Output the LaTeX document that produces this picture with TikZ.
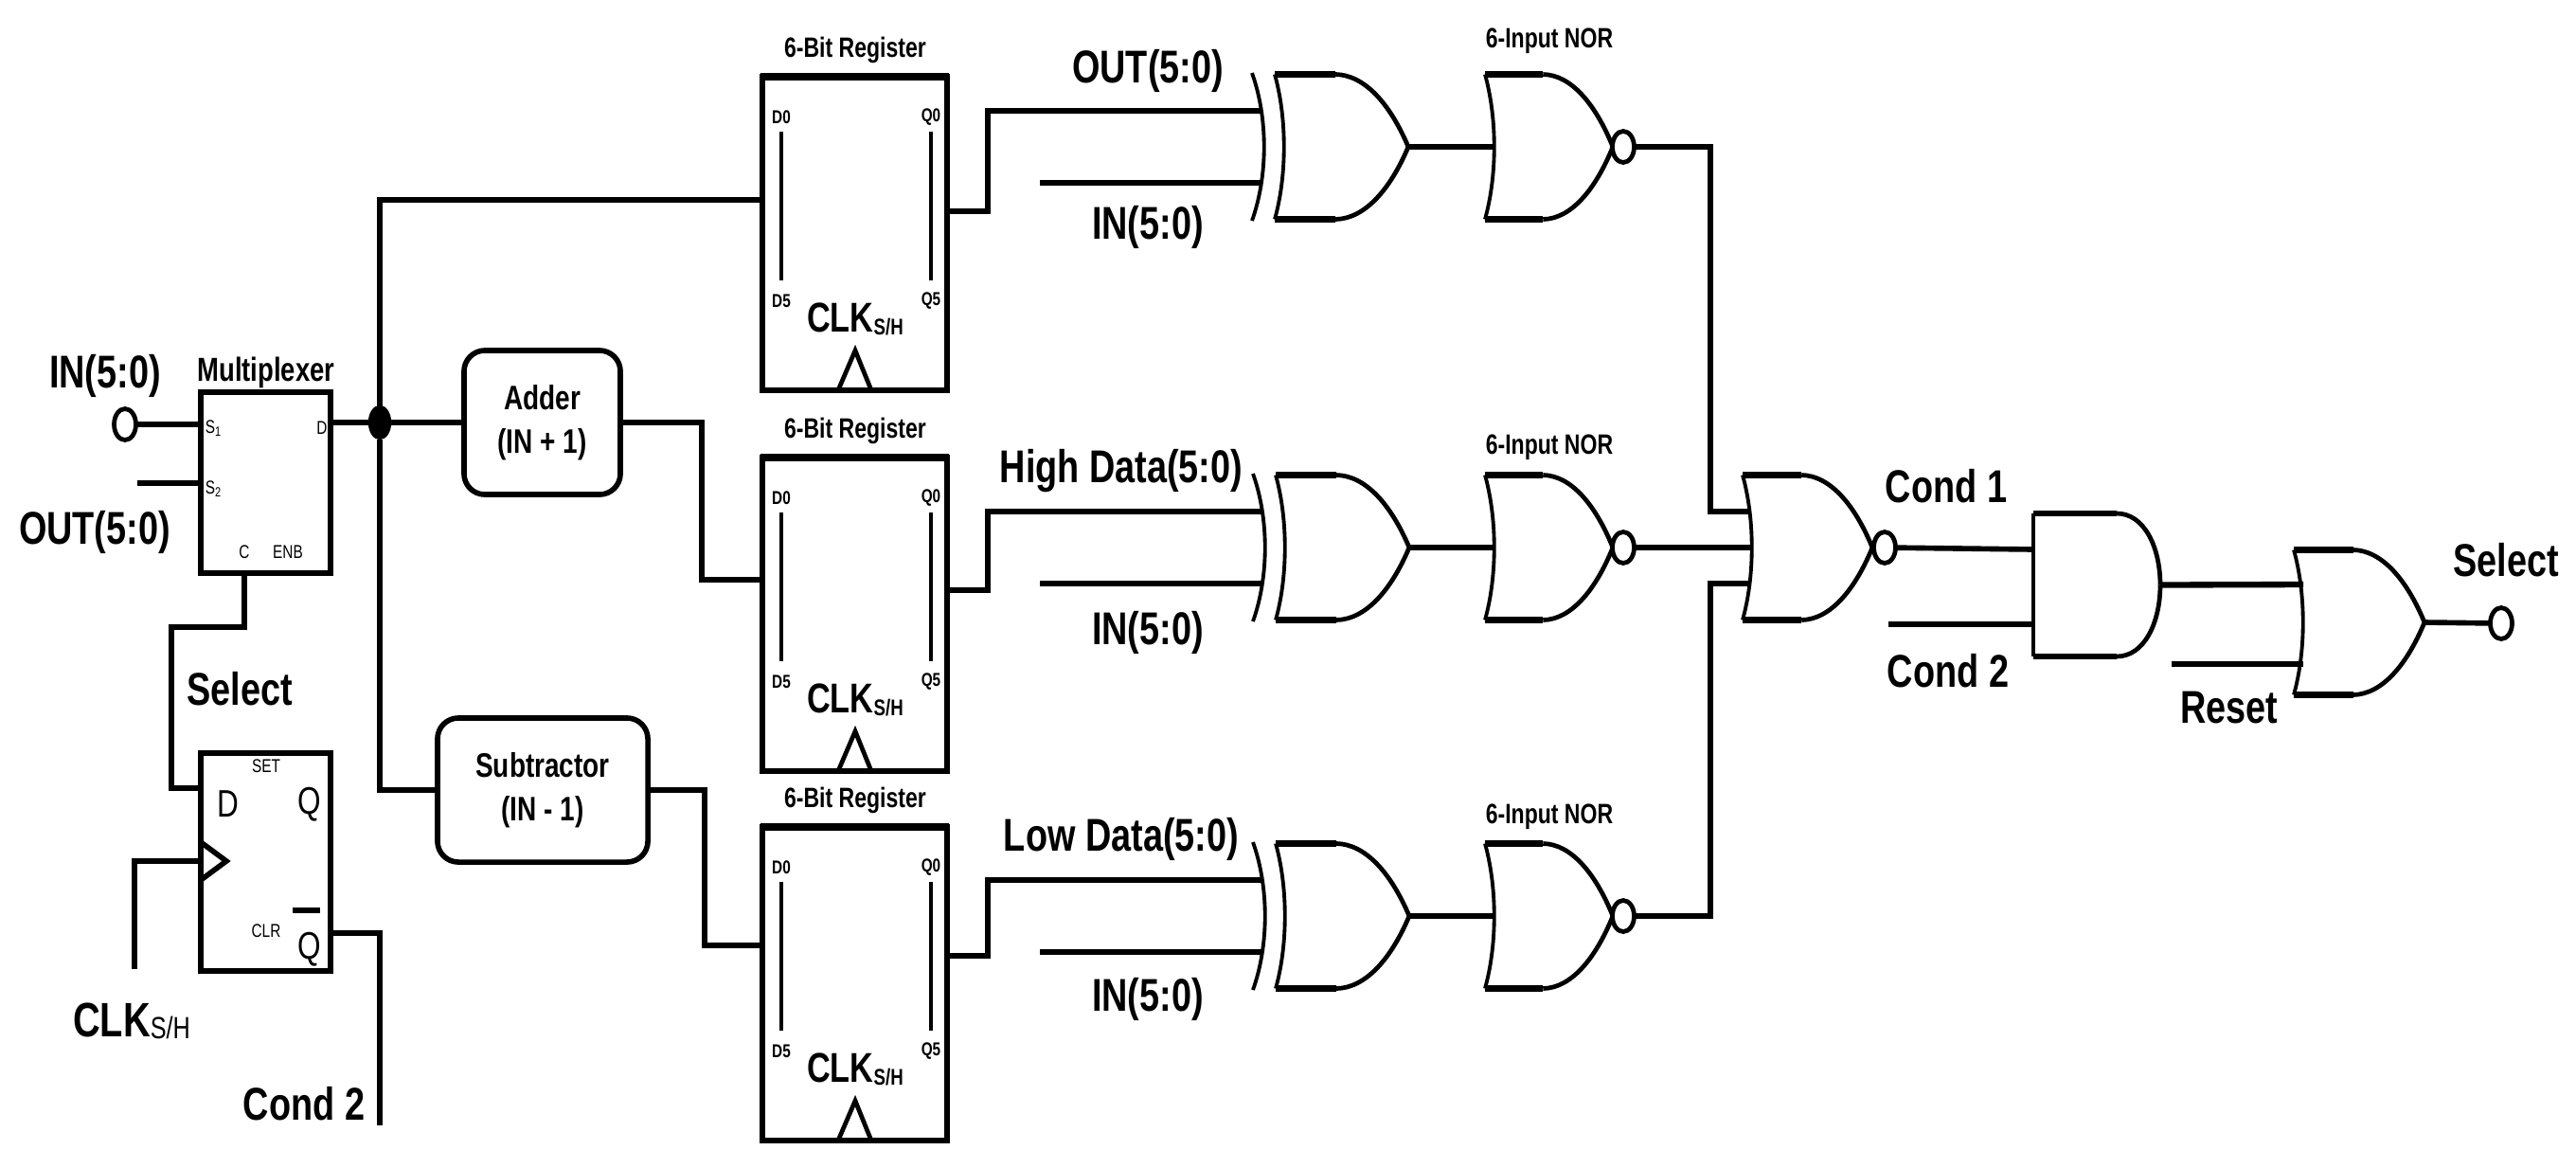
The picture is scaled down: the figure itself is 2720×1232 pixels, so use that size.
\documentclass[tikz,border=0pt]{standalone}
\usepackage{fontspec}
\setmainfont{Liberation Sans}[FakeStretch=0.78]
\usetikzlibrary{shapes.geometric}

\newcommand\lblfont[1]{\fontsize{#1}{#1}\selectfont}
\newcommand\lowsub[2]{\raisebox{#1}{#2}}

\tikzset{
	wire/.style={line width=1.6pt},
	thinw/.style={line width=1.1pt},
	gateline/.style={line width=1.35pt},
	bar/.style={line width=1.8pt},
	big/.style={inner sep=0pt, font=\bfseries\lblfont{13.8}},
	title/.style={inner sep=0pt, font=\bfseries\lblfont{8.4}},
	pin/.style={inner sep=0pt, font=\lblfont{5.6}},
	regpin/.style={inner sep=0pt, font=\bfseries\lblfont{5.6}},
	ffpin/.style={inner sep=0pt, font=\lblfont{11.5}},
	box/.style={draw, wire, rectangle, inner sep=0pt, outer sep=0pt, minimum width=1.37cm},
	block/.style={draw, wire, rectangle, rounded corners=.22cm, inner sep=0pt, outer sep=0pt,
		minimum height=1.52cm, align=center, font=\bfseries\fontsize{10.2}{13}\selectfont},
	term/.style={draw, gateline, ellipse, fill=white, inner sep=0pt, outer sep=0pt,
		minimum width=.23cm, minimum height=.33cm},
	dot/.style={draw, fill=black, ellipse, inner sep=0pt, outer sep=0pt,
		minimum width=.23cm, minimum height=.35cm},
}

% OR outline, origin at the middle of the back, #1 is the x of the tip
\newcommand\orbody[1]{
	\draw[thinw] (0,-76.5) .. controls (13,-30) and (13,30) .. (0,76.5);
	\draw[bar] (0,-76.5) -- ({0.454*#1},-76.5);
	\draw[bar] (0,76.5) -- ({0.454*#1},76.5);
	\draw[gateline] ({0.454*#1},-76.5) .. controls ({0.674*#1},-76) and ({0.865*#1},-45) .. (#1,0);
	\draw[gateline] ({0.454*#1},76.5) .. controls ({0.674*#1},76) and ({0.865*#1},45) .. (#1,0);
	\coordinate (-tip) at (#1,0);
	\coordinate (-back) at (10,0);
	\coordinate (-ia) at (7,-38);
	\coordinate (-ib) at (7,38);
}

\tikzset{
	pics/orgate/.style={code={\orbody{#1}}},
	pics/xorgate/.style={code={
		\orbody{#1}
		\draw[thinw] (-24,-78) .. controls (-7,-30) and (-7,30) .. (-24,78);
		\coordinate (-ia) at (-13,-38);
		\coordinate (-ib) at (-13,38);
	}},
	pics/norgate/.style 2 args={code={
		\orbody{#1}
		\node[term] (-bub) at (#2,0) {};
	}},
	pics/andgate/.style={code={
		\draw[thinw] (0,-75.5) -- (0,75.5);
		\draw[bar] (0,-75.5) -- (88,-75.5);
		\draw[bar] (0,75.5) -- (88,75.5);
		\draw[gateline] (88,-75.5) .. controls (117,-75.5) and (134,-40) .. (134,0);
		\draw[gateline] (88,75.5) .. controls (117,75.5) and (134,40) .. (134,0);
		\coordinate (-ia) at (0,-37);
		\coordinate (-ib) at (0,42);
		\coordinate (-tip) at (134,0);
	}},
	pics/register/.style={code={
		\node[draw, wire, rectangle, inner sep=0pt, outer sep=0pt, minimum width=1.95cm,
			minimum height=3.31cm, anchor=north west] (-box) at (0,0) {};
		\draw[bar, line width=2.2pt] (-2,0) -- (197,0);
		\draw[bar] (-2,331) -- (197,331);
		\node[title] (-t) at (98,-28) {6-Bit Register};
		\node[regpin] (-d0) at (20,43) {D0};
		\node[regpin] (-q0) at (178,43) {Q0};
		\node[regpin] (-d5) at (20,237) {D5};
		\node[regpin] (-q5) at (178,237) {Q5};
		\draw[thinw] (20,58) -- (20,215);
		\draw[thinw] (178,58) -- (178,215);
		\node[inner sep=0pt, font=\bfseries\lblfont{12.5}] (-clk) at (98,256)
			{CLK\lowsub{-1pt}{\lblfont{6.8}S/H}};
		\draw[gateline] (80,331) -- (98,289) -- (115,331);
	}},
}

\begin{document}
\begin{tikzpicture}[x=0.01cm, y=-0.01cm]
	\path[fill=white, use as bounding box] (0,0) rectangle (2720,1232);

	% input side
	\node[box, minimum height=1.91cm] (mux) at (280.5,509.5) {};
	\node[inner sep=0pt, font=\bfseries\lblfont{10}] (muxt) at (281,393) {Multiplexer};
	\node[pin] (s1) at (225,452) {S\lowsub{-1pt}{\lblfont{4}1}};
	\node[pin] (s2) at (225,516) {S\lowsub{-1pt}{\lblfont{4}2}};
	\node[pin] (md) at (340,452) {D};
	\node[pin] (mc) at (258,583) {C};
	\node[pin] (men) at (304,583) {ENB};
	\node[term] (in) at (132,448) {};
	\node[big] (inl) at (111,397) {IN(5:0)};
	\node[big] (outl) at (100,562) {OUT(5:0)};
	\coordinate (mi1) at (212,448);
	\coordinate (mi2) at (212,510);
	\coordinate (oute) at (145,510);
	\draw[wire] (in) -- (mi1);
	\draw[wire] (oute) -- (mi2);

	% flip-flop
	\node[box, minimum height=2.30cm] (ff) at (280.5,910) {};
	\node[pin] (fset) at (281,809) {SET};
	\node[pin] (fclr) at (281,983) {CLR};
	\node[ffpin] (fd) at (241,849) {D};
	\node[ffpin] (fq) at (327,849) {Q};
	\node[ffpin] (fqb) at (327,1002) {Q};
	\draw[bar, line width=1.8pt] (309,961) -- (338,961);
	\draw[wire] (212,889) -- (239,909) -- (212,929);
	\node[big] (sel) at (253,727) {Select};
	\node[big, font=\bfseries\lblfont{14.5}] (clkl) at (139,1078) {CLK\lowsub{-.5pt}{\normalfont\lblfont{9.2}S/H}};
	\node[big] (cond2b) at (321,1165) {Cond 2};

	\coordinate (mc1) at (258,605);
	\coordinate (mc2) at (258,662);
	\coordinate (mc3) at (181,662);
	\coordinate (fd1) at (181,832);
	\coordinate (fd2) at (212,832);
	\draw[wire] (mc1) -- (mc2) -- (mc3) -- (fd1) -- (fd2);
	\coordinate (ck1) at (142,1023);
	\coordinate (ck2) at (142,909);
	\coordinate (ck3) at (212,909);
	\draw[wire] (ck1) -- (ck2) -- (ck3);
	\coordinate (qb1) at (349,985);
	\coordinate (qb2) at (401,985);
	\coordinate (qb3) at (401,1188);
	\draw[wire] (qb1) -- (qb2) -- (qb3);

	% adder and subtractor
	\node[block, minimum width=1.65cm] (add) at (572.5,446) {Adder\\(IN + 1)};
	\node[block, minimum width=2.22cm] (sub) at (573,834) {Subtractor\\(IN - 1)};
	\node[dot] (j) at (401,446) {};
	\coordinate (mo) at (349,446);
	\coordinate (bt) at (401,211);
	\coordinate (bb) at (401,834);
	\draw[wire] (mo) -- (j) -- (add);
	\draw[wire] (j) -- (bb) -- (sub);

	% registers
	\pic (r1) at (805,81) {register};
	\pic (r2) at (805,483) {register};
	\pic (r3) at (805,873) {register};
	\coordinate (r1d) at (805,211);
	\coordinate (r2d) at (805,612);
	\coordinate (r3d) at (805,998);
	\coordinate (r1q) at (1000,223);
	\coordinate (r2q) at (1000,623);
	\coordinate (r3q) at (1000,1009);
	\draw[wire] (j) -- (bt) -- (r1d);
	\coordinate (a1) at (741,612);
	\coordinate (s1c) at (744,998);
	\draw[wire] (add) -| (a1) -- (r2d);
	\draw[wire] (sub) -| (s1c) -- (r3d);

	% compare gates
	\pic (g1) at (1346,155) {xorgate=141};
	\pic (g2) at (1347,578) {xorgate=141};
	\pic (g3) at (1347,967) {xorgate=141};
	\pic (n1) at (1568,155) {norgate={135}{146}};
	\pic (n2) at (1568,578) {norgate={135}{146}};
	\pic (n3) at (1568,967) {norgate={135}{146}};
	\node[title] (n1t) at (1636,43) {6-Input NOR};
	\node[title] (n2t) at (1636,472) {6-Input NOR};
	\node[title] (n3t) at (1636,862) {6-Input NOR};

	\coordinate (k1) at (1043,117);
	\coordinate (k2) at (1043,540);
	\coordinate (k3) at (1043,929);
	\draw[wire] (r1q) -| (k1) -- (g1-ia);
	\draw[wire] (r2q) -| (k2) -- (g2-ia);
	\draw[wire] (r3q) -| (k3) -- (g3-ia);
	\coordinate (e1) at (1098,193);
	\coordinate (e2) at (1098,616);
	\coordinate (e3) at (1098,1005);
	\draw[wire] (e1) -- (g1-ib);
	\draw[wire] (e2) -- (g2-ib);
	\draw[wire] (e3) -- (g3-ib);
	\draw[wire] (g1-tip) -- (n1-back);
	\draw[wire] (g2-tip) -- (n2-back);
	\draw[wire] (g3-tip) -- (n3-back);

	\node[big] (l1a) at (1212,75) {OUT(5:0)};
	\node[big] (l1b) at (1212,240) {IN(5:0)};
	\node[big] (l2a) at (1184,497) {High Data(5:0)};
	\node[big] (l2b) at (1212,668) {IN(5:0)};
	\node[big] (l3a) at (1184,886) {Low Data(5:0)};
	\node[big] (l3b) at (1212,1055) {IN(5:0)};

	% output logic
	\pic (n4) at (1840,578) {norgate={137}{150}};
	\pic (an) at (2147,617.5) {andgate};
	\pic (g5) at (2422,657) {orgate=138};
	\coordinate (c1) at (1806,155);
	\coordinate (c3) at (1806,967);
	\coordinate (c1b) at (1806,540);
	\coordinate (c3b) at (1806,616);
	\draw[wire] (n1-bub) -- (c1) -- (c1b) -- (n4-ia);
	\draw[wire] (n2-bub) -- (n4-back);
	\draw[wire] (n3-bub) -- (c3) -- (c3b) -- (n4-ib);
	\coordinate (d1) at (2147,580);
	\draw[wire] (n4-bub) -- (d1);
	\coordinate (cond2e) at (1994,659);
	\coordinate (an2) at (2147,659);
	\draw[wire] (cond2e) -- (an2);
	\coordinate (f1) at (2432,617);
	\draw[wire, line width=1.8pt] (an-tip) -- (f1);
	\coordinate (rs1) at (2293,701);
	\coordinate (rs2) at (2432,701);
	\draw[wire] (rs1) -- (rs2);
	\node[term] (so) at (2641,658) {};
	\draw[wire] (g5-tip) -- (so);

	\node[big] (l4a) at (2055,513) {Cond 1};
	\node[big] (l4b) at (2057,708) {Cond 2};
	\node[big] (l4c) at (2354,747) {Reset};
	\node[big] (l4d) at (2646,591) {Select};
\end{tikzpicture}
\end{document}
